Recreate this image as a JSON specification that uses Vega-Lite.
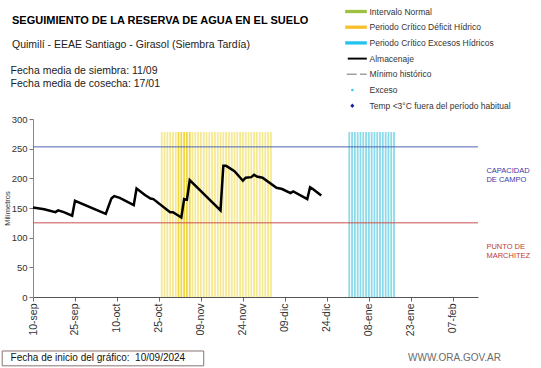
{
  "$schema": "https://vega.github.io/schema/vega-lite/v6.json",
  "width": 445,
  "height": 178,
  "autosize": {"type": "none"},
  "padding": {"left": 33, "top": 119, "right": 63, "bottom": 71},
  "background": "white",
  "config": {"view": {"stroke": null}, "font": "Liberation Sans", "axisY": {"labelOverlap": false, "tickCount": 7}},
  "title": {
    "text": "SEGUIMIENTO DE LA RESERVA DE AGUA EN EL SUELO",
    "subtitle": "Quimilí  - EEAE Santiago - Girasol (Siembra Tardía)",
    "anchor": "start", "frame": "group", "dx": -21, "offset": -46,
    "fontSize": 11, "fontWeight": "bold", "color": "#000",
    "subtitleFontSize": 10.5, "subtitleColor": "#222", "subtitleLineHeight": 13.3, "subtitlePadding": 14
  },
  "datasets": {
    "almacenaje": [
      {"fecha": "2024-09-10", "mm": 151},
      {"fecha": "2024-09-14", "mm": 148},
      {"fecha": "2024-09-18", "mm": 143},
      {"fecha": "2024-09-19", "mm": 146},
      {"fecha": "2024-09-21", "mm": 143},
      {"fecha": "2024-09-24", "mm": 137},
      {"fecha": "2024-09-25", "mm": 162},
      {"fecha": "2024-10-06", "mm": 140},
      {"fecha": "2024-10-08", "mm": 166},
      {"fecha": "2024-10-09", "mm": 170},
      {"fecha": "2024-10-11", "mm": 167},
      {"fecha": "2024-10-16", "mm": 155},
      {"fecha": "2024-10-17", "mm": 183},
      {"fecha": "2024-10-20", "mm": 172},
      {"fecha": "2024-10-22", "mm": 166},
      {"fecha": "2024-10-23", "mm": 165},
      {"fecha": "2024-10-29", "mm": 143},
      {"fecha": "2024-10-30", "mm": 143},
      {"fecha": "2024-11-02", "mm": 134},
      {"fecha": "2024-11-03", "mm": 165},
      {"fecha": "2024-11-04", "mm": 164},
      {"fecha": "2024-11-05", "mm": 197},
      {"fecha": "2024-11-16", "mm": 146},
      {"fecha": "2024-11-17", "mm": 221},
      {"fecha": "2024-11-18", "mm": 221},
      {"fecha": "2024-11-21", "mm": 212},
      {"fecha": "2024-11-24", "mm": 196},
      {"fecha": "2024-11-25", "mm": 201},
      {"fecha": "2024-11-27", "mm": 202},
      {"fecha": "2024-11-28", "mm": 206},
      {"fecha": "2024-11-29", "mm": 203},
      {"fecha": "2024-12-01", "mm": 201},
      {"fecha": "2024-12-06", "mm": 184},
      {"fecha": "2024-12-08", "mm": 182},
      {"fecha": "2024-12-11", "mm": 175},
      {"fecha": "2024-12-12", "mm": 178},
      {"fecha": "2024-12-17", "mm": 165},
      {"fecha": "2024-12-18", "mm": 185},
      {"fecha": "2024-12-19", "mm": 182},
      {"fecha": "2024-12-22", "mm": 171}
    ],
    "periodos": [
      {"fecha": "2024-10-26", "periodo": "Déficit", "intensidad": "normal", "mm": 278},
      {"fecha": "2024-10-27", "periodo": "Déficit", "intensidad": "normal", "mm": 278},
      {"fecha": "2024-10-28", "periodo": "Déficit", "intensidad": "normal", "mm": 278},
      {"fecha": "2024-10-29", "periodo": "Déficit", "intensidad": "normal", "mm": 278},
      {"fecha": "2024-10-30", "periodo": "Déficit", "intensidad": "normal", "mm": 278},
      {"fecha": "2024-10-31", "periodo": "Déficit", "intensidad": "normal", "mm": 278},
      {"fecha": "2024-11-01", "periodo": "Déficit", "intensidad": "alta", "mm": 278},
      {"fecha": "2024-11-02", "periodo": "Déficit", "intensidad": "alta", "mm": 278},
      {"fecha": "2024-11-03", "periodo": "Déficit", "intensidad": "alta", "mm": 278},
      {"fecha": "2024-11-04", "periodo": "Déficit", "intensidad": "alta", "mm": 278},
      {"fecha": "2024-11-05", "periodo": "Déficit", "intensidad": "alta", "mm": 278},
      {"fecha": "2024-11-06", "periodo": "Déficit", "intensidad": "normal", "mm": 278},
      {"fecha": "2024-11-07", "periodo": "Déficit", "intensidad": "normal", "mm": 278},
      {"fecha": "2024-11-08", "periodo": "Déficit", "intensidad": "normal", "mm": 278},
      {"fecha": "2024-11-09", "periodo": "Déficit", "intensidad": "normal", "mm": 278},
      {"fecha": "2024-11-10", "periodo": "Déficit", "intensidad": "normal", "mm": 278},
      {"fecha": "2024-11-11", "periodo": "Déficit", "intensidad": "normal", "mm": 278},
      {"fecha": "2024-11-12", "periodo": "Déficit", "intensidad": "normal", "mm": 278},
      {"fecha": "2024-11-13", "periodo": "Déficit", "intensidad": "normal", "mm": 278},
      {"fecha": "2024-11-14", "periodo": "Déficit", "intensidad": "normal", "mm": 278},
      {"fecha": "2024-11-15", "periodo": "Déficit", "intensidad": "normal", "mm": 278},
      {"fecha": "2024-11-16", "periodo": "Déficit", "intensidad": "normal", "mm": 278},
      {"fecha": "2024-11-17", "periodo": "Déficit", "intensidad": "normal", "mm": 278},
      {"fecha": "2024-11-18", "periodo": "Déficit", "intensidad": "normal", "mm": 278},
      {"fecha": "2024-11-19", "periodo": "Déficit", "intensidad": "normal", "mm": 278},
      {"fecha": "2024-11-20", "periodo": "Déficit", "intensidad": "normal", "mm": 278},
      {"fecha": "2024-11-21", "periodo": "Déficit", "intensidad": "normal", "mm": 278},
      {"fecha": "2024-11-22", "periodo": "Déficit", "intensidad": "normal", "mm": 278},
      {"fecha": "2024-11-23", "periodo": "Déficit", "intensidad": "normal", "mm": 278},
      {"fecha": "2024-11-24", "periodo": "Déficit", "intensidad": "normal", "mm": 278},
      {"fecha": "2024-11-25", "periodo": "Déficit", "intensidad": "normal", "mm": 278},
      {"fecha": "2024-11-26", "periodo": "Déficit", "intensidad": "normal", "mm": 278},
      {"fecha": "2024-11-27", "periodo": "Déficit", "intensidad": "normal", "mm": 278},
      {"fecha": "2024-11-28", "periodo": "Déficit", "intensidad": "normal", "mm": 278},
      {"fecha": "2024-11-29", "periodo": "Déficit", "intensidad": "normal", "mm": 278},
      {"fecha": "2024-11-30", "periodo": "Déficit", "intensidad": "normal", "mm": 278},
      {"fecha": "2024-12-01", "periodo": "Déficit", "intensidad": "normal", "mm": 278},
      {"fecha": "2024-12-02", "periodo": "Déficit", "intensidad": "normal", "mm": 278},
      {"fecha": "2024-12-03", "periodo": "Déficit", "intensidad": "normal", "mm": 278},
      {"fecha": "2024-12-04", "periodo": "Déficit", "intensidad": "normal", "mm": 278},
      {"fecha": "2025-01-01", "periodo": "Excesos", "intensidad": "normal", "mm": 278},
      {"fecha": "2025-01-02", "periodo": "Excesos", "intensidad": "normal", "mm": 278},
      {"fecha": "2025-01-03", "periodo": "Excesos", "intensidad": "normal", "mm": 278},
      {"fecha": "2025-01-04", "periodo": "Excesos", "intensidad": "normal", "mm": 278},
      {"fecha": "2025-01-05", "periodo": "Excesos", "intensidad": "normal", "mm": 278},
      {"fecha": "2025-01-06", "periodo": "Excesos", "intensidad": "normal", "mm": 278},
      {"fecha": "2025-01-07", "periodo": "Excesos", "intensidad": "normal", "mm": 278},
      {"fecha": "2025-01-08", "periodo": "Excesos", "intensidad": "normal", "mm": 278},
      {"fecha": "2025-01-09", "periodo": "Excesos", "intensidad": "normal", "mm": 278},
      {"fecha": "2025-01-10", "periodo": "Excesos", "intensidad": "normal", "mm": 278},
      {"fecha": "2025-01-11", "periodo": "Excesos", "intensidad": "normal", "mm": 278},
      {"fecha": "2025-01-12", "periodo": "Excesos", "intensidad": "normal", "mm": 278},
      {"fecha": "2025-01-13", "periodo": "Excesos", "intensidad": "normal", "mm": 278},
      {"fecha": "2025-01-14", "periodo": "Excesos", "intensidad": "normal", "mm": 278},
      {"fecha": "2025-01-15", "periodo": "Excesos", "intensidad": "normal", "mm": 278},
      {"fecha": "2025-01-16", "periodo": "Excesos", "intensidad": "normal", "mm": 278},
      {"fecha": "2025-01-17", "periodo": "Excesos", "intensidad": "normal", "mm": 278}
    ],
    "umbrales": [
      {"ref": "CC", "mm": 253, "fecha": "2025-02-19", "texto": "CAPACIDAD\nDE  CAMPO", "mm_texto": 213},
      {"ref": "PMP", "mm": 125, "fecha": "2025-02-19", "texto": "PUNTO   DE\nMARCHITEZ", "mm_texto": 85}
    ],
    "leyenda": [
      {"serie": "Intervalo Normal"},
      {"serie": "Periodo Crítico Déficit Hídrico"},
      {"serie": "Periodo Crítico Excesos Hídricos"},
      {"serie": "Almacenaje"},
      {"serie": "Mínimo histórico"},
      {"serie": "Exceso"},
      {"serie": "Temp <3°C fuera del período habitual"}
    ],
    "encabezado": [
      {"texto": "Fecha media de siembra: 11/09\nFecha media de cosecha: 17/01", "fecha": "2024-09-02", "mm": 376}
    ],
    "pie": [
      {"pieza": "inicio", "fecha": "2024-08-30", "fecha2": "2024-11-10", "mm": -91, "mm2": -116, "texto": "Fecha de inicio del gráfico:\u00a0\u00a010/09/2024", "fecha_texto": "2024-09-02", "mm_texto": -103},
      {"pieza": "web", "fecha": null, "fecha2": null, "mm": null, "mm2": null, "texto": "WWW.ORA.GOV.AR", "fecha_texto": "2025-01-22", "mm_texto": -103}
    ]
  },
  "layer": [
    {
      "data": {"name": "periodos"},
      "mark": {"type": "rule", "strokeWidth": 1.8},
      "encoding": {
        "x": {
          "field": "fecha", "type": "temporal",
          "scale": {"type": "utc", "domain": [{"year": 2024, "month": 9, "date": 10, "utc": true}, {"year": 2025, "month": 2, "date": 16, "utc": true}]},
          "axis": {
            "title": null, "grid": false, "labelAngle": -90, "labelFontSize": 10.5, "labelColor": "#333",
            "labelPadding": 2, "tickSize": 4, "tickColor": "#666", "domainColor": "#555", "labelFlush": false, "labelOverlap": false,
            "tickCount": 20,
            "values": [
              {"year": 2024, "month": 9, "date": 10, "utc": true},
              {"year": 2024, "month": 9, "date": 25, "utc": true},
              {"year": 2024, "month": 10, "date": 10, "utc": true},
              {"year": 2024, "month": 10, "date": 25, "utc": true},
              {"year": 2024, "month": 11, "date": 9, "utc": true},
              {"year": 2024, "month": 11, "date": 24, "utc": true},
              {"year": 2024, "month": 12, "date": 9, "utc": true},
              {"year": 2024, "month": 12, "date": 24, "utc": true},
              {"year": 2025, "month": 1, "date": 8, "utc": true},
              {"year": 2025, "month": 1, "date": 23, "utc": true},
              {"year": 2025, "month": 2, "date": 7, "utc": true}
            ],
            "labelExpr": "utcFormat(datum.value, '%d') + '-' + ['ene','feb','mar','abr','may','jun','jul','ago','sep','oct','nov','dic'][utcmonth(datum.value)]"
          }
        },
        "y": {
          "field": "mm", "type": "quantitative",
          "scale": {"domain": [0, 300], "nice": false},
          "axis": {
            "title": "Milímetros", "titleFontSize": 7.5, "titleFontWeight": "normal", "titleColor": "#333",
            "titleX": -26, "titleY": 89, "titleBaseline": "middle",
            "values": [0, 50, 100, 150, 200, 250, 300], "tickCount": 7, "grid": false, "labelFontSize": 9.5, "labelColor": "#333",
            "labelOverlap": false, "labelFlush": false,
            "labelPadding": 2, "tickSize": 4, "tickColor": "#777", "domainColor": "#888"
          }
        },
        "y2": {"datum": 0},
        "color": {
          "condition": [
            {"test": "datum.periodo === 'Excesos'", "value": "#8cdbea"},
            {"test": "datum.intensidad === 'alta'", "value": "#f0d740"}
          ],
          "value": "#f5e993"
        }
      }
    },
    {
      "data": {"name": "umbrales"},
      "mark": {"type": "rule", "strokeWidth": 1},
      "encoding": {
        "y": {"field": "mm", "type": "quantitative"},
        "color": {"condition": {"test": "datum.ref === 'CC'", "value": "#4a66b5"}, "value": "#c8504d"}
      }
    },
    {
      "data": {"name": "umbrales"},
      "mark": {"type": "text", "align": "left", "baseline": "middle", "fontSize": 7.5, "lineBreak": "\n", "lineHeight": 9},
      "encoding": {
        "x": {"field": "fecha", "type": "temporal"},
        "y": {"field": "mm_texto", "type": "quantitative"},
        "text": {"field": "texto"},
        "color": {"condition": {"test": "datum.ref === 'CC'", "value": "#3a3aa6"}, "value": "#c03a36"}
      }
    },
    {
      "data": {"name": "almacenaje"},
      "mark": {"type": "line", "color": "#000", "strokeWidth": 2.5},
      "encoding": {
        "x": {"field": "fecha", "type": "temporal"},
        "y": {
          "field": "mm", "type": "quantitative",
          "axis": {
            "title": "Milímetros", "titleFontSize": 7.5, "titleFontWeight": "normal", "titleColor": "#333",
            "titleX": -26, "titleY": 89, "titleBaseline": "middle",
            "values": [0, 50, 100, 150, 200, 250, 300], "tickCount": 7, "grid": false, "labelFontSize": 9.5, "labelColor": "#333",
            "labelOverlap": false, "labelFlush": false,
            "labelPadding": 2, "tickSize": 4, "tickColor": "#777", "domainColor": "#888"
          }
        }
      }
    },
    {
      "data": {"name": "encabezado"},
      "mark": {"type": "text", "align": "left", "baseline": "alphabetic", "fontSize": 10.5, "color": "#222", "lineBreak": "\n", "lineHeight": 13.3},
      "encoding": {
        "x": {"field": "fecha", "type": "temporal"},
        "y": {"field": "mm", "type": "quantitative"},
        "text": {"field": "texto"}
      }
    },
    {
      "data": {"name": "pie"},
      "transform": [{"filter": "datum.pieza === 'inicio'"}],
      "mark": {"type": "rect", "fill": "white", "stroke": "#8a7272", "strokeWidth": 1},
      "encoding": {
        "x": {"field": "fecha", "type": "temporal"},
        "x2": {"field": "fecha2"},
        "y": {"field": "mm", "type": "quantitative"},
        "y2": {"field": "mm2"}
      }
    },
    {
      "data": {"name": "pie"},
      "mark": {"type": "text", "align": "left", "baseline": "middle"},
      "encoding": {
        "x": {"field": "fecha_texto", "type": "temporal"},
        "y": {"field": "mm_texto", "type": "quantitative"},
        "text": {"field": "texto"},
        "color": {"condition": {"test": "datum.pieza === 'web'", "value": "#6b6b6b"}, "value": "#111"},
        "size": {"condition": {"test": "datum.pieza === 'web'", "value": 10}, "value": 10}
      }
    },
    {
      "data": {"name": "leyenda"},
      "mark": {"type": "point", "filled": true, "opacity": 0},
      "encoding": {
        "color": {
          "field": "serie", "type": "nominal",
          "scale": {
            "domain": ["Intervalo Normal", "Periodo Crítico Déficit Hídrico", "Periodo Crítico Excesos Hídricos", "Almacenaje", "Mínimo histórico", "Exceso", "Temp <3°C fuera del período habitual"],
            "range": ["#9dc23f", "#f8c12a", "#22c3ee", "#000000", "#a0a0a0", "#2ec8f0", "#1c22a0"]
          },
          "legend": {
            "title": null, "orient": "none", "legendX": 315.5, "legendY": -115, "symbolSize": 225,
            "symbolStrokeWidth": 0, "symbolOpacity": 1, "labelFontSize": 8.5, "labelColor": "#333", "labelOffset": 6,
            "rowPadding": 3.7, "padding": 0, "labelLimit": 300,
            "encode": {"symbols": {"update": {"opacity": {"value": 1}}}}
          }
        },
        "shape": {
          "field": "serie", "type": "nominal",
          "scale": {
            "domain": ["Intervalo Normal", "Periodo Crítico Déficit Hídrico", "Periodo Crítico Excesos Hídricos", "Almacenaje", "Mínimo histórico", "Exceso", "Temp <3°C fuera del período habitual"],
            "range": [
              "M-1.44,-0.22H1.44V0.22H-1.44Z",
              "M-1.44,-0.22H1.44V0.22H-1.44Z",
              "M-1.44,-0.22H1.44V0.22H-1.44Z",
              "M-1.1,-0.13H1.44V0.13H-1.1Z",
              "M-1.24,-0.1H0.09V0.1H-1.24Z M0.53,-0.1H1.42V0.1H0.53Z",
              "M-0.32,0L-0.37,0.12L-0.49,0.17L-0.61,0.12L-0.66,0L-0.61,-0.12L-0.49,-0.17L-0.37,-0.12Z",
              "M-0.49,-0.29L-0.22,0L-0.49,0.29L-0.76,0Z"
            ]
          },
          "legend": {
            "title": null, "orient": "none", "legendX": 315.5, "legendY": -115, "symbolSize": 225,
            "symbolStrokeWidth": 0, "symbolOpacity": 1, "labelFontSize": 8.5, "labelColor": "#333", "labelOffset": 6,
            "rowPadding": 3.7, "padding": 0, "labelLimit": 300,
            "encode": {"symbols": {"update": {"opacity": {"value": 1}}}}
          }
        }
      }
    }
  ]
}
